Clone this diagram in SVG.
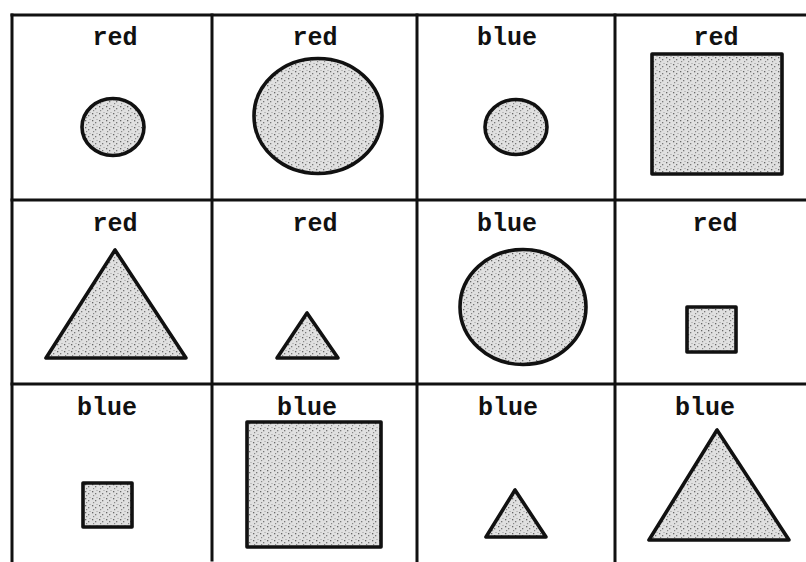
<svg xmlns="http://www.w3.org/2000/svg" width="806" height="562" viewBox="0 0 806 562">
<style>
.bg{fill:#ffffff}
.grid{stroke:#111;stroke-width:3;fill:none;stroke-linecap:square}
.shape{fill:url(#stipple);stroke:#111;stroke-width:3.6;stroke-linejoin:round}
.lbl{font-family:"Liberation Mono","Courier New",monospace;font-weight:bold;font-size:25px;fill:#111;text-anchor:middle}
</style>
<defs>
<pattern id="stipple" width="7" height="7" patternUnits="userSpaceOnUse">
<rect width="7" height="7" fill="#e0e0e0"/>
<rect x="1" y="1" width="1.3" height="1.3" fill="#666"/>
<rect x="4" y="3" width="1.3" height="1.3" fill="#777"/>
<rect x="2" y="5" width="1.2" height="1.2" fill="#888"/>
<rect x="5.5" y="0" width="1" height="1" fill="#999"/>
</pattern>
</defs>
<rect class="bg" width="806" height="562"/>
<g id="grid-lines">
<line class="grid" x1="12" y1="15" x2="806" y2="15"/>
<line class="grid" x1="12" y1="200" x2="806" y2="200"/>
<line class="grid" x1="12" y1="384" x2="806" y2="384"/>
<line class="grid" x1="12" y1="15" x2="12" y2="562"/>
<line class="grid" x1="212" y1="15" x2="212" y2="560"/>
<line class="grid" x1="417" y1="15" x2="417" y2="562"/>
<line class="grid" x1="615" y1="15" x2="615" y2="562"/>
</g>
<g id="connectors"></g>
<g id="cell-r1c1">
<text class="lbl" x="115" y="45">red</text>
<ellipse class="shape" cx="113" cy="127" rx="31" ry="28.5"/>
</g>
<g id="cell-r1c2">
<text class="lbl" x="315" y="45">red</text>
<ellipse class="shape" cx="318" cy="116" rx="64" ry="57.5"/>
</g>
<g id="cell-r1c3">
<text class="lbl" x="507" y="45">blue</text>
<ellipse class="shape" cx="516" cy="127" rx="31" ry="27.5"/>
</g>
<g id="cell-r1c4">
<text class="lbl" x="716" y="45">red</text>
<rect class="shape" x="652" y="54" width="130" height="120"/>
</g>
<g id="cell-r2c1">
<text class="lbl" x="115" y="231">red</text>
<polygon class="shape" points="115,250 46,358 186,358"/>
</g>
<g id="cell-r2c2">
<text class="lbl" x="315" y="231">red</text>
<polygon class="shape" points="307,313 277,358 338,358"/>
</g>
<g id="cell-r2c3">
<text class="lbl" x="507" y="231">blue</text>
<ellipse class="shape" cx="523" cy="307" rx="63" ry="57.5"/>
</g>
<g id="cell-r2c4">
<text class="lbl" x="715" y="231">red</text>
<rect class="shape" x="687" y="307" width="49" height="45"/>
</g>
<g id="cell-r3c1">
<text class="lbl" x="107" y="415">blue</text>
<rect class="shape" x="83" y="483" width="49" height="44"/>
</g>
<g id="cell-r3c2">
<text class="lbl" x="307" y="415">blue</text>
<rect class="shape" x="247" y="422" width="134" height="125"/>
</g>
<g id="cell-r3c3">
<text class="lbl" x="508" y="415">blue</text>
<polygon class="shape" points="515,490 486,537 546,537"/>
</g>
<g id="cell-r3c4">
<text class="lbl" x="705" y="415">blue</text>
<polygon class="shape" points="717,430 649,540 789,540"/>
</g>
</svg>
